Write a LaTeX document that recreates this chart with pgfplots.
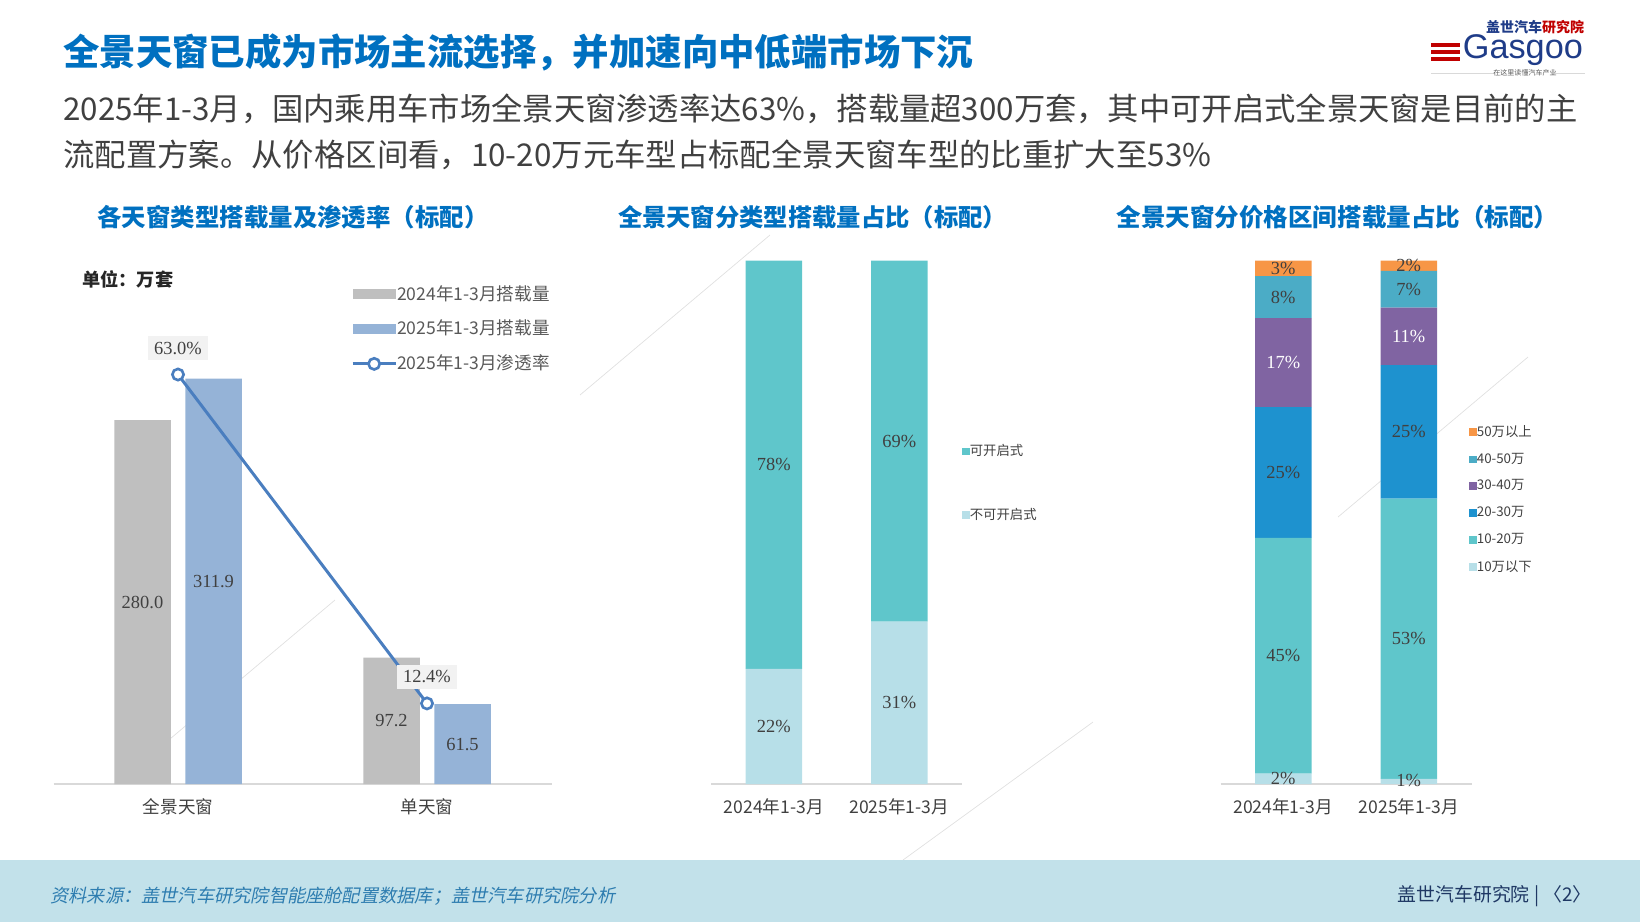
\documentclass[border=0pt]{standalone}
\usepackage{graphicx}
\usepackage{pgfplots}
\pgfplotsset{compat=1.18}
\usepackage{fontspec}
\setmainfont{Noto Sans CJK SC}
\newfontfamily\cjkit[FakeSlant=0.2]{Noto Sans CJK SC}
\newfontfamily\logofont{Liberation Sans}
\newfontfamily\numfont{Liberation Serif}
\definecolor{ttl}{HTML}{0070C0}
\definecolor{txt}{HTML}{404040}
\definecolor{lgt}{HTML}{595959}
\definecolor{cgray}{HTML}{BFBFBF}
\definecolor{cblue}{HTML}{95B3D7}
\definecolor{cline}{HTML}{4A7EBF}
\definecolor{cteal}{HTML}{5FC6CB}
\definecolor{clight}{HTML}{B7DFE8}
\definecolor{cmid}{HTML}{1E92CF}
\definecolor{cpur}{HTML}{8064A2}
\definecolor{ccyan}{HTML}{4BACC6}
\definecolor{corange}{HTML}{F79646}
\definecolor{axgray}{HTML}{D9D9D9}
\definecolor{foot}{HTML}{C2E1EA}
\definecolor{footl}{HTML}{2E7DB0}
\definecolor{navy}{HTML}{1F3864}
\definecolor{boxg}{HTML}{F2F2F2}
\definecolor{logob}{HTML}{1F3C88}
\definecolor{logor}{HTML}{C00000}
\newcommand\fs[1]{\fontsize{#1}{#1}\selectfont}
\pgfplotsset{
  barleg/.style={legend image code/.code={\fill[##1] (0cm,-0.105cm) rectangle (0.86cm,0.105cm);}},
  sqleg/.style={legend image code/.code={\fill[##1] (0cm,-0.075cm) rectangle (0.15cm,0.075cm);}},
  lineleg/.style={legend image code/.code={\draw[mark repeat=2,mark phase=2,##1] plot coordinates {(0cm,0cm) (0.43cm,0cm) (0.86cm,0cm)};}},
  base/.style={scale only axis, clip=false, anchor=south west},
  catx/.style={axis x line*=bottom, axis y line=none, x axis line style={draw=axgray,line width=0.9pt},
    xtick={0,1}, major tick length=0pt, xtick style={draw=none},
    xticklabel style={font=\fs{10pt}, text=txt, yshift=-0.16cm}},
  lab/.style={draw=none, mark=none, nodes near coords, point meta=explicit symbolic,
    nodes near coords align={center},
    every node near coord/.append style={font=\numfont\fs{10.5pt}, text=txt}},
}
\begin{document}
\begin{tikzpicture}
\path[use as bounding box] (0,0) rectangle (32.8,-18.44);
% faint decorative lines of the background watermark
\begin{scope}[opacity=0.12]
  \draw[line width=0.4pt] (11.6,-7.9) -- (15.4,-4.7);
  \draw[line width=0.4pt] (6.7,-12.0) -- (2.9,-15.2);
  \draw[line width=0.4pt] (26.76,-10.34) -- (30.56,-7.14);
  \draw[line width=0.4pt] (21.86,-14.44) -- (18.06,-17.2);
\end{scope}
% footer band
\fill[foot] (0,-17.2) rectangle (32.8,-18.44);
% title and text
\node[anchor=west, inner sep=0] at (1.26,-1.05) {\resizebox{18.2cm}{!}{\color{ttl}\bfseries\fs{20pt}全景天窗已成为市场主流选择，并加速向中低端市场下沉}};
\node[anchor=west, inner sep=0] at (1.26,-2.18) {\resizebox{30.28cm}{!}{\color{txt}\fs{17pt}2025年1-3月，国内乘用车市场全景天窗渗透率达63\%，搭载量超300万套，其中可开启式全景天窗是目前的主}};
\node[anchor=west, inner sep=0] at (1.26,-3.1) {\resizebox{22.96cm}{!}{\color{txt}\fs{17pt}流配置方案。从价格区间看，10-20万元车型占标配全景天窗车型的比重扩大至53\%}};
% logo
\node[inner sep=0] at (30.7,-0.54) {\resizebox{1.96cm}{!}{\bfseries\fs{8pt}\color{logob}盖世汽车\color{logor}研究院}};
\node[anchor=west, inner sep=0] at (29.25,-1.0) {\resizebox{2.4cm}{!}{\logofont\fs{24pt}\color{logob}Gasgoo}};
\fill[logor] (28.62,-0.86) rectangle (29.2,-0.94);
\fill[logor] (28.62,-1.0) rectangle (29.2,-1.08);
\fill[logor] (28.62,-1.14) rectangle (29.2,-1.22);
\draw[axgray, line width=0.3pt] (28.62,-1.46) -- (29.9,-1.46);
\draw[axgray, line width=0.3pt] (31.1,-1.46) -- (31.7,-1.46);
\node[inner sep=0] at (30.5,-1.46) {\fs{4pt}\color{lgt}在这里读懂汽车产业};
% subtitles
\node[inner sep=0] at (5.86,-4.35) {\resizebox{7.82cm}{!}{\color{ttl}\bfseries\fs{14pt}各天窗类型搭载量及渗透率（标配）}};
\node[inner sep=0] at (16.25,-4.35) {\resizebox{7.78cm}{!}{\color{ttl}\bfseries\fs{14pt}全景天窗分类型搭载量占比（标配）}};
\node[inner sep=0] at (26.75,-4.35) {\resizebox{8.84cm}{!}{\color{ttl}\bfseries\fs{14pt}全景天窗分价格区间搭载量占比（标配）}};
\node[anchor=west, inner sep=0] at (1.64,-5.58) {\resizebox{1.82cm}{!}{\color{black!85}\bfseries\fs{10pt}单位：万套}};
% footer texts
\node[anchor=west, inner sep=0] at (1.0,-17.92) {\resizebox{11.3cm}{!}{\cjkit\color{footl}\fs{10pt}资料来源：盖世汽车研究院智能座舱配置数据库；盖世汽车研究院分析}};
\node[anchor=east, inner sep=0] at (31.84,-17.92) {\resizebox{3.88cm}{!}{\color{navy}\fs{11pt}盖世汽车研究院 | 〈2〉}};

% ---------- left chart: bars
\begin{axis}[base, at={(1.07cm,-15.68cm)}, width=9.96cm, height=10.4cm,
  xmin=-0.5, xmax=1.5, ymin=0, ymax=400, catx, xticklabels={全景天窗,单天窗},
  ybar=0.29cm, bar width=1.13cm]
\addplot[fill=cgray, draw=none] coordinates {(0,280.0) (1,97.2)};
\addplot[fill=cblue, draw=none] coordinates {(0,311.9) (1,61.5)};
\end{axis}
\begin{axis}[base, at={(1.07cm,-15.68cm)}, width=9.96cm, height=10.4cm,
  xmin=-0.5, xmax=1.5, ymin=0, ymax=400, hide axis]
\addplot[lab] coordinates {(-0.1426,140)[280.0] (0.8574,48.6)[97.2] (0.1426,155.95)[311.9] (1.1426,30.75)[61.5]};
\end{axis}
% left chart: penetration line (secondary scale)
\begin{axis}[base, at={(1.07cm,-15.68cm)}, width=9.96cm, height=10.4cm,
  xmin=-0.5, xmax=1.5, ymin=0, ymax=80, hide axis,
  legend style={at={(0.597,0.96)}, anchor=north west, draw=none, fill=none, inner sep=0pt,
    row sep=0.35cm, font=\fs{10pt}, text=lgt, nodes={inner sep=0pt}},
  legend cell align=left, /tikz/every even column/.append style={column sep=0.08cm}]
\addlegendimage{barleg, fill=cgray, draw=none}
\addlegendentry{2024年1-3月搭载量}
\addlegendimage{barleg, fill=cblue, draw=none}
\addlegendentry{2025年1-3月搭载量}
\addplot[lineleg, color=cline, line width=1.7pt, mark=*, mark size=3.2pt,
  mark options={fill=white, draw=cline, line width=1.5pt},
  nodes near coords, point meta=explicit symbolic, nodes near coords align={center},
  every node near coord/.append style={font=\numfont\fs{10.5pt}, text=txt, fill=boxg, inner xsep=0.12cm, inner ysep=0.12cm, yshift=0.53cm}]
  coordinates {(0,63.0)[63.0\%] (1,12.4)[12.4\%]};
\addlegendentry{2025年1-3月渗透率}
\end{axis}

% ---------- middle chart
\begin{axis}[base, at={(14.22cm,-15.68cm)}, width=5.02cm, height=10.47cm,
  xmin=-0.5, xmax=1.5, ymin=0, ymax=100, catx, xticklabels={2024年1-3月,2025年1-3月},
  ybar stacked, bar width=1.13cm, reverse legend,
  legend style={at={(1.0,0.649)}, anchor=north west, draw=none, fill=none, inner sep=0pt,
    row sep=0.99cm, font=\fs{7.6pt}, text=txt, nodes={inner sep=0pt}},
  legend cell align=left, /tikz/every even column/.append style={column sep=0.05cm}]
\addplot[sqleg, fill=clight, draw=none] coordinates {(0,22) (1,31)};
\addlegendentry{不可开启式}
\addplot[sqleg, fill=cteal, draw=none] coordinates {(0,78) (1,69)};
\addlegendentry{可开启式}
\end{axis}
\begin{axis}[base, at={(14.22cm,-15.68cm)}, width=5.02cm, height=10.47cm,
  xmin=-0.5, xmax=1.5, ymin=0, ymax=100, hide axis]
\addplot[lab] coordinates {(0,11)[22\%] (0,61)[78\%] (1,15.5)[31\%] (1,65.5)[69\%]};
\end{axis}

% ---------- right chart
\begin{axis}[base, at={(24.41cm,-15.68cm)}, width=5.02cm, height=10.47cm,
  xmin=-0.5, xmax=1.5, ymin=0, ymax=100, catx, xticklabels={2024年1-3月,2025年1-3月},
  ybar stacked, bar width=1.13cm, reverse legend,
  legend style={at={(0.99,0.686)}, anchor=north west, draw=none, fill=none, inner sep=0pt,
    row sep=0.28cm, font=\fs{7.6pt}, text=txt, nodes={inner sep=0pt}},
  legend cell align=left, /tikz/every even column/.append style={column sep=0.05cm}]
\addplot[sqleg, fill=clight, draw=none] coordinates {(0,2) (1,1)};
\addlegendentry{10万以下}
\addplot[sqleg, fill=cteal, draw=none] coordinates {(0,45) (1,53.5)};
\addlegendentry{10-20万}
\addplot[sqleg, fill=cmid, draw=none] coordinates {(0,25) (1,25.5)};
\addlegendentry{20-30万}
\addplot[sqleg, fill=cpur, draw=none] coordinates {(0,17) (1,11)};
\addlegendentry{30-40万}
\addplot[sqleg, fill=ccyan, draw=none] coordinates {(0,8) (1,7)};
\addlegendentry{40-50万}
\addplot[sqleg, fill=corange, draw=none] coordinates {(0,3) (1,2)};
\addlegendentry{50万以上}
\end{axis}
\begin{axis}[base, at={(24.41cm,-15.68cm)}, width=5.02cm, height=10.47cm,
  xmin=-0.5, xmax=1.5, ymin=0, ymax=100, hide axis]
\addplot[lab] coordinates {(0,1)[2\%] (0,24.5)[45\%] (0,59.5)[25\%] (0,93)[8\%] (0,98.5)[3\%]
  (1,0.6)[1\%] (1,27.75)[53\%] (1,67.25)[25\%] (1,94.5)[7\%] (1,99)[2\%]};
\addplot[lab, every node near coord/.append style={text=white}] coordinates {(0,80.5)[17\%] (1,85.5)[11\%]};
\end{axis}
\end{tikzpicture}
\end{document}
